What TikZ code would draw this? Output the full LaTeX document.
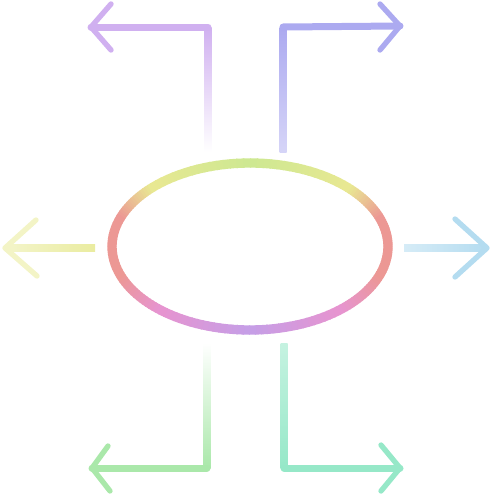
\documentclass[tikz,border=0pt]{standalone}
\usetikzlibrary{shapes.geometric}

\definecolor{cLav}{RGB}{208,176,240}
\definecolor{cPeri}{RGB}{172,170,240}
\definecolor{cLemon}{RGB}{234,236,160}
\definecolor{cSky}{RGB}{180,220,240}
\definecolor{cLeaf}{RGB}{170,232,170}
\definecolor{cMint}{RGB}{150,232,200}
\definecolor{rSalmon}{RGB}{236,152,148}
\definecolor{rPink}{RGB}{230,148,208}
\definecolor{rViolet}{RGB}{198,158,230}
\definecolor{rYellow}{RGB}{232,232,146}
\definecolor{rLime}{RGB}{206,232,146}

\tikzset{every picture/.style={line width=0.75pt}}
\tikzset{
  shaft/.style={line width=5.25pt, line cap=round, line join=round},
  wing/.style={line width=4pt, line cap=round},
  ring/.style={line width=7pt, line cap=butt},
}

\begin{document}
\begin{tikzpicture}[x=0.75pt,y=0.75pt,yscale=-1,xscale=1]
\useasboundingbox (0,0) rectangle (500,500);

%Shape: Ellipse (hub, drawn as coloured ring below)
\node [ellipse, minimum width=206.25pt, minimum height=125.25pt, inner sep=0pt] (hub) at (250,246.5) {};
\foreach \sa/\ea/\ca/\cb in {0/20/rSalmon/rSalmon, 20/50/rSalmon/rPink, 50/90/rPink/rViolet, 90/130/rViolet/rPink, 130/160/rPink/rSalmon, 160/200/rSalmon/rSalmon, 200/225/rSalmon/rYellow, 225/270/rYellow/rLime, 270/315/rLime/rYellow, 315/340/rYellow/rSalmon, 340/360/rSalmon/rSalmon}{
  \foreach \t in {0,...,15}{
    \pgfmathsetmacro\a{\sa+(\ea-\sa)*\t/16}
    \pgfmathsetmacro\b{\a+(\ea-\sa)/16+0.5}
    \pgfmathtruncatemacro\p{100*\t/15}
    \draw [ring, \cb!\p!\ca] ({250+138*cos(\a)},{246.5+83.5*sin(\a)}) arc [start angle=\a, end angle=\b, x radius=138, y radius=83.5];
  }
}

%Coordinates of the arrows
\coordinate (tlBend) at (208,27);  \coordinate (tlTip) at (91,27);
\coordinate (trBend) at (283,27);  \coordinate (trTip) at (400,26);
\coordinate (lFoot) at (95,248);   \coordinate (lTip) at (5,248);
\coordinate (rFoot) at (404,248);  \coordinate (rTip) at (487,248);
\coordinate (blBend) at (207,468); \coordinate (blTip) at (92,468);
\coordinate (brBend) at (284,468); \coordinate (brTip) at (400,468);

%Top left arrow
\shade [top color=cLav, middle color=cLav!80!white, bottom color=white] (204.5,27) rectangle (211.5,152);
\draw [shaft, cLav] (tlBend) -- (tlTip);
\draw [wing, cLav] (tlTip) -- ++(20,-23) (tlTip) -- ++(20,23);

%Top right arrow
\shade [top color=cPeri, bottom color=cPeri!50!white] (279.5,27) rectangle (286.5,152);
\draw [shaft, cPeri] (trBend) -- (trTip);
\draw [wing, cPeri] (trTip) -- ++(-20,-22) (trTip) -- ++(-20,24);

%Left arrow
\shade [left color=cLemon!55!white, right color=cLemon] (5,244.5) rectangle (95,251.5);
\draw [wing, cLemon!60!white] (lTip) -- ++(31,-28) (lTip) -- ++(32,28);

%Right arrow
\shade [left color=cSky!55!white, right color=cSky] (404,244.5) rectangle (487,251.5);
\draw [wing, cSky] (rTip) -- ++(-32,-29) (rTip) -- ++(-32,29);

%Bottom left arrow
\shade [top color=white, middle color=cLeaf!80!white, bottom color=cLeaf] (203.5,343) rectangle (210.5,468);
\draw [shaft, cLeaf] (blBend) -- (blTip);
\draw [wing, cLeaf] (blTip) -- ++(16,-22) (blTip) -- ++(18,23);

%Bottom right arrow
\shade [top color=cMint!55!white, bottom color=cMint] (280.5,343) rectangle (287.5,468);
\draw [shaft, cMint] (brBend) -- (brTip);
\draw [wing, cMint] (brTip) -- ++(-19,-23) (brTip) -- ++(-19,23);

\end{tikzpicture}
\end{document}
